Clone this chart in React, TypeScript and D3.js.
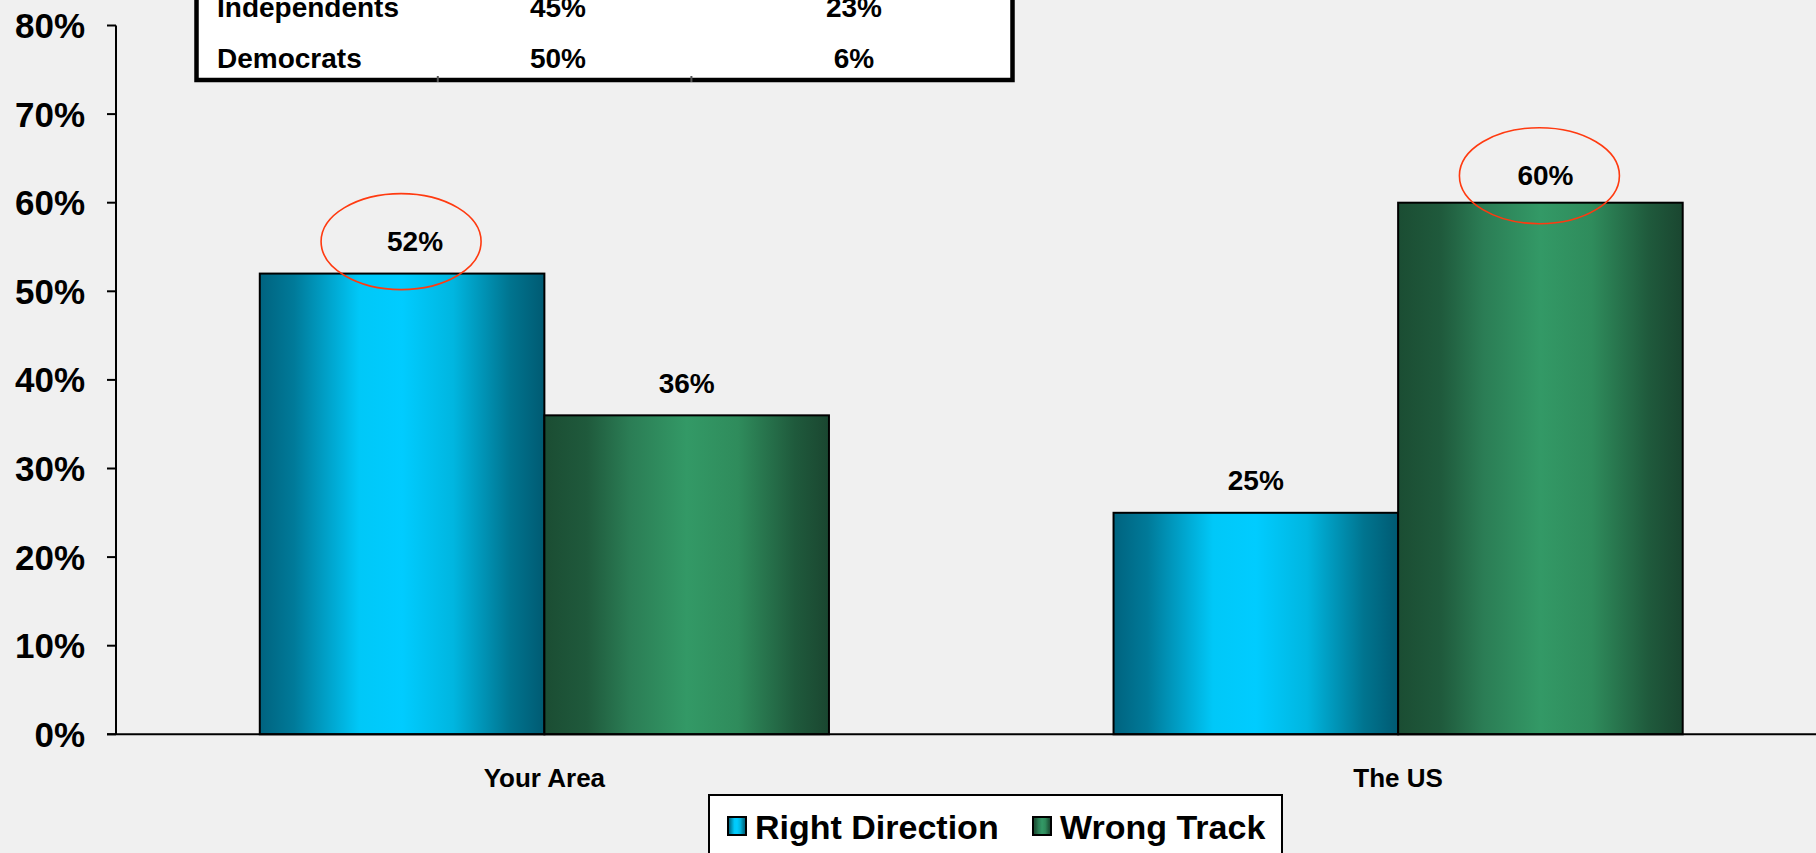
import React from "react";
import * as d3 from "d3";

const categories = ["Your Area", "The US"];
const seriesNames = ["Right Direction", "Wrong Track"];
const rightDirection = [52, 25];
const wrongTrack = [36, 60];
const yTicks = [0, 10, 20, 30, 40, 50, 60, 70, 80];
const highlighted = [
  { cat: "Your Area", series: 0 },
  { cat: "The US", series: 1 },
];
const tableRows = [
  ["Independents", "45%", "23%"],
  ["Democrats", "50%", "6%"],
];

const W = 1816;
const H = 853;
const BG = "#f0f0f0";
const SANS = "'Liberation Sans', Arial, sans-serif";

export default function App() {
  const y = d3.scaleLinear().domain([0, 80]).range([734.3, 25.5]);
  const x0 = d3.scaleBand<string>().domain(categories).range([117.5, 1825]).paddingInner(0).paddingOuter(0);
  const groupW = (x0.bandwidth() * 2) / 3;
  const x1 = d3.scaleBand<number>().domain([0, 1]).range([0, groupW]).padding(0);
  const series = [rightDirection, wrongTrack];
  const grads = ["gradBlue", "gradGreen"];
  const barX = (ci: number, si: number) => (x0(categories[ci]) as number) + (x0.bandwidth() - groupW) / 2 + (x1(si) as number);

  // small manual label nudges (as placed in the original slide)
  const nudge = (ci: number, si: number) => {
    if (ci === 0 && si === 0) return { dx: 13, dy: 0 };
    if (ci === 1 && si === 1) return { dx: 5, dy: 5 };
    return { dx: 0, dy: 0 };
  };
  const labelPos = (ci: number, si: number) => {
    const n = nudge(ci, si);
    return {
      x: barX(ci, si) + x1.bandwidth() / 2 + n.dx,
      y: y(series[si][ci]) - 32 + n.dy,
    };
  };

  return (
    <svg width={W} height={H} style={{ position: "absolute", left: 0, top: 0, display: "block" }}>
      <defs>
        <linearGradient id="gradBlue" x1="0" x2="1" y1="0" y2="0">
          <stop offset="0" stopColor="#00637f" />
          <stop offset="0.12" stopColor="#007a99" />
          <stop offset="0.35" stopColor="#00c8f8" />
          <stop offset="0.5" stopColor="#00ccff" />
          <stop offset="0.68" stopColor="#00b6e0" />
          <stop offset="0.88" stopColor="#00748f" />
          <stop offset="1" stopColor="#005a72" />
        </linearGradient>
        <linearGradient id="gradGreen" x1="0" x2="1" y1="0" y2="0">
          <stop offset="0" stopColor="#1b4d33" />
          <stop offset="0.15" stopColor="#1f5a3c" />
          <stop offset="0.3" stopColor="#2b7d55" />
          <stop offset="0.5" stopColor="#339966" />
          <stop offset="0.68" stopColor="#2f8c5c" />
          <stop offset="0.88" stopColor="#1f5a3c" />
          <stop offset="1" stopColor="#1a4630" />
        </linearGradient>
      </defs>
      <rect x={0} y={0} width={W} height={H} fill={BG} />

      {/* top table (partially visible) */}
      <g>
        <rect x={196.5} y={-60} width={816} height={140} fill="#ffffff" stroke="#000" strokeWidth={4.5} />
        <line x1={437.8} x2={437.8} y1={76} y2={82} stroke="#555" strokeWidth={2} />
        <line x1={691.4} x2={691.4} y1={76} y2={82} stroke="#555" strokeWidth={2} />
        {tableRows.map((r, i) => (
          <g key={i} fontFamily={SANS} fontWeight="bold" fontSize={28} fill="#000">
            <text x={217} y={7 + i * 51} dominantBaseline="central">{r[0]}</text>
            <text x={558} y={7 + i * 51} textAnchor="middle" dominantBaseline="central">{r[1]}</text>
            <text x={854} y={7 + i * 51} textAnchor="middle" dominantBaseline="central">{r[2]}</text>
          </g>
        ))}
      </g>

      {/* bars */}
      {categories.map((c, ci) =>
        series.map((s, si) => (
          <rect
            key={c + si}
            x={barX(ci, si)}
            y={y(s[ci])}
            width={x1.bandwidth()}
            height={y(0) - y(s[ci])}
            fill={`url(#${grads[si]})`}
            stroke="#000"
            strokeWidth={2}
          />
        ))
      )}

      {/* value labels */}
      {categories.map((c, ci) =>
        series.map((s, si) => {
          const p = labelPos(ci, si);
          return (
            <text
              key={"l" + c + si}
              x={p.x}
              y={p.y}
              textAnchor="middle"
              dominantBaseline="central"
              fontFamily={SANS}
              fontWeight="bold"
              fontSize={28}
              fill="#000"
            >
              {s[ci]}%
            </text>
          );
        })
      )}

      {/* highlight ellipses */}
      {highlighted.map((h, i) => {
        const ci = categories.indexOf(h.cat);
        const p = labelPos(ci, h.series);
        return (
          <ellipse
            key={"e" + i}
            cx={barX(ci, h.series) + x1.bandwidth() / 2 - 1}
            cy={p.y}
            rx={80}
            ry={48}
            fill="none"
            stroke="#ff3a10"
            strokeWidth={1.6}
          />
        );
      })}

      {/* y axis */}
      <line x1={116} x2={116} y1={y(80)} y2={y(0)} stroke="#000" strokeWidth={2} />
      {yTicks.map((t) => (
        <g key={t}>
          <line x1={107} x2={116} y1={y(t)} y2={y(t)} stroke="#000" strokeWidth={2} />
          <text x={85} y={y(t)} textAnchor="end" dominantBaseline="central" fontFamily={SANS} fontWeight="bold" fontSize={35} fill="#000">
            {t}%
          </text>
        </g>
      ))}
      {/* x axis */}
      <line x1={107} x2={W} y1={y(0)} y2={y(0)} stroke="#000" strokeWidth={2} />
      {categories.map((c) => (
        <text key={c} x={(x0(c) as number) + x0.bandwidth() / 2} y={778} textAnchor="middle" dominantBaseline="central" fontFamily={SANS} fontWeight="bold" fontSize={26} fill="#000">
          {c}
        </text>
      ))}

      {/* legend */}
      <g>
        <rect x={709} y={795} width={573} height={80} fill="#fff" stroke="#000" strokeWidth={2} />
        {seriesNames.map((n, i) => {
          const lx = i === 0 ? 728 : 1033;
          return (
            <g key={n}>
              <rect x={lx} y={817} width={18} height={18} fill={`url(#${grads[i]})`} stroke="#000" strokeWidth={2} />
              <text x={lx + 27} y={827} dominantBaseline="central" fontFamily={SANS} fontWeight="bold" fontSize={34} fill="#000">
                {n}
              </text>
            </g>
          );
        })}
      </g>
    </svg>
  );
}
